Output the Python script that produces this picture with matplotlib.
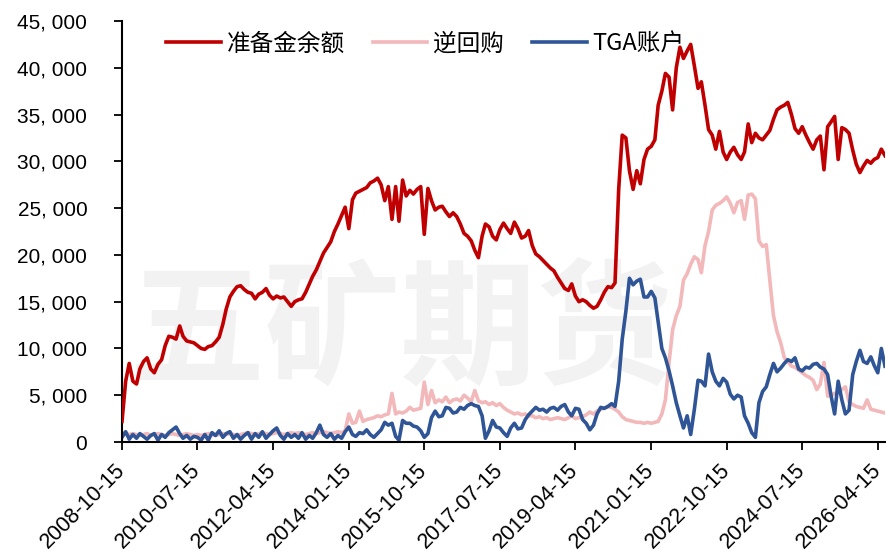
import numpy as np
import pandas as pd
import matplotlib
matplotlib.use("Agg")
import matplotlib.pyplot as plt
import matplotlib.dates as mdates

# monthly points, starting 2008-10-15
dates = pd.date_range("2008-10-15", periods=213, freq=pd.DateOffset(months=1))

reserves = [
    2200, 6500, 8400, 6500, 6200, 7800, 8600, 9000, 7800, 7400, 8300, 8800,
    10300, 11300, 11200, 11000, 12400, 11300, 10800, 10700, 10600, 10300, 10000, 9900,
    10200, 10300, 10700, 11200, 12600, 14200, 15500, 16100, 16600, 16700, 16300, 16000,
    15900, 15300, 15800, 16000, 16400, 15700, 15300, 15600, 15400, 15500, 15000, 14500,
    15000, 15200, 15300, 16000, 16900, 17700, 18400, 19300, 20200, 20800, 21400, 22500,
    23300, 24200, 25100, 22800, 25900, 26600, 26800, 27000, 27200, 27700, 27900, 28200,
    27500, 25800, 27300, 23800, 27300, 23600, 28000, 26300, 26900, 26500, 27000, 27300,
    22200, 27100, 25800, 24800, 25100, 25200, 24600, 24100, 24500, 24100, 23300, 22300,
    22000, 21500, 20500, 19700, 22000, 23300, 23000, 22000, 21600, 22700, 23400, 22800,
    22300, 23500, 22800, 21800, 22000, 22600, 21000, 20100, 19800, 19400, 19000, 18600,
    18300, 17600, 17000, 16400, 16200, 16900, 15600, 15000, 15200, 15000, 14600, 14300,
    14500, 15200, 16000, 16600, 16500, 17000, 27000, 32800, 32500, 29000, 27000, 29000,
    27600, 30200, 31300, 31600, 32300, 36000, 37500, 39400, 39000, 35500, 40000, 42200,
    41000, 41800, 42500, 40200, 37800, 38500, 36000, 33400, 32800, 31300, 33200, 31000,
    30200, 31000, 31500, 30700, 30200, 31000, 34000, 32000, 33000, 32500, 32300, 32800,
    33300, 34500, 35500, 35800, 36000, 36300, 35000, 33500, 33000, 33700, 32800, 32000,
    31300, 32300, 32700, 29100, 33700, 34200, 34800, 30200, 33600, 33400, 33000, 31200,
    29700, 28800, 29500, 30100, 29800, 30200, 30400, 31300, 30600,
]

rrp = [
    1000, 900, 800, 900, 800, 700, 800, 900, 700, 800, 900, 800,
    700, 800, 900, 800, 700, 800, 900, 800, 700, 800, 700, 800,
    900, 800, 700, 800, 900, 800, 900, 800, 700, 800, 900, 1000,
    900, 800, 900, 1000, 900, 800, 900, 1000, 900, 800, 900, 1000,
    900, 1000, 900, 800, 900, 1000, 900, 1000, 1100, 1000, 900, 1000,
    1100, 1000, 1200, 3000, 2000, 2100, 3300, 2200, 2400, 2500, 2600, 2800,
    2700, 2900, 3000, 5200, 3000, 3200, 3100, 3300, 3700, 3400, 3500, 3600,
    6400, 4000, 5500, 4200, 4500, 4300, 4800, 4200, 4500, 4600, 4400, 5000,
    4700, 4300, 5500, 4400, 4200, 4300, 4000, 4200, 3900, 4100, 3700, 3400,
    3200, 3000, 3100, 2900, 3000, 2800, 2800, 2600, 2700, 2500, 2600, 2400,
    2500, 2600, 2500, 2400, 2600, 2800, 2500, 2600, 2700, 2900, 3200, 3000,
    3300, 3500, 3600, 3800, 3700, 3500, 3200, 2700, 2400, 2300, 2200, 2100,
    2100, 2000, 2100, 2000, 2100, 2200, 3000, 4500, 8500, 12000, 13500, 14500,
    17300, 18000, 19000, 19800, 19500, 18100, 21000, 22500, 24800, 25300, 25500, 25800,
    26200, 25500, 24500, 25600, 25800, 23800, 26400, 26500, 26000, 21500, 20900, 21100,
    17300, 13500, 11800, 10600, 9000, 8600, 8100, 8000, 7700, 7400, 7100, 6900,
    6600, 5600, 6200, 8500, 4900, 5000, 5200, 5300, 5600, 5900, 4300, 4000,
    3800, 3700, 3600, 4500, 3500, 3400, 3300, 3200, 3100,
]

tga = [
    500, 1100, 300, 800, 400, 900, 600, 300, 700, 900, 200, 800,
    500, 1000, 1300, 1600, 900, 400, 700, 300, 600, 500, 200, 800,
    200, 1000, 700, 1200, 500, 900, 1100, 400, 800, 300, 700, 1000,
    300, 900, 500, 1100, 400, 800, 1200, 1500, 700, 300, 900, 500,
    800, 400, 1000, 300, 700, 400, 1000, 1800, 800, 500, 900, 300,
    700, 400, 1100, 1600, 800, 600, 1000, 900, 1300, 800, 500, 900,
    1300, 2100, 1800, 2000, 600, 200, 2300, 2000, 2000, 1700, 1600, 1200,
    500, 900, 2600, 3300, 2700, 2800, 3700, 3600, 3100, 3200, 3700, 3500,
    3900, 4100, 3900, 3800, 2800, 400, 1200, 2300, 1600, 1500, 1000, 600,
    1500, 2000, 1400, 1500, 2400, 2900, 3300, 3700, 3400, 3500, 3200, 3600,
    3700, 3400, 3800, 4000, 3200, 2800, 3600, 3500, 2400, 2000, 1300, 1800,
    3000, 3700, 3600, 3800, 4100, 3800, 6500, 11000, 14000, 17500, 16800, 17200,
    17400, 15500, 15500, 16100, 15400, 12800, 10000, 9000, 7600, 6000, 4200, 2800,
    1500, 2800, 800, 3500, 6600, 6500, 6000, 9400, 7500, 6500, 6000, 6800,
    6400, 5100, 4600, 5000, 4800, 2800, 2000, 1000, 500, 4200, 5400, 5900,
    7200, 8400, 7500, 7900, 8400, 8800, 8600, 9000, 7800, 7600, 8000, 7900,
    8300, 8400, 8000, 7800, 7200, 5000, 3000, 6500, 4500, 3000, 3400, 7200,
    8600, 9800, 8600, 8400, 9100, 8200, 7400, 10000, 8100,
]

series_names = ["准备金余额", "逆回购", "TGA账户"]
tick_dates = ["2008-10-15", "2010-07-15", "2012-04-15", "2014-01-15", "2015-10-15",
              "2017-07-15", "2019-04-15", "2021-01-15", "2022-10-15", "2024-07-15",
              "2026-04-15"]
y_ticks = [0, 5000, 10000, 15000, 20000, 25000, 30000, 35000, 40000, 45000]

plt.rcParams['font.family'] = ['Liberation Sans', 'Noto Sans CJK SC', 'DejaVu Sans']

fig = plt.figure(figsize=(8.87, 5.56), dpi=100)
ax = fig.add_axes([122 / 887, 1 - 442 / 556, (885 - 122) / 887, (442 - 21) / 556])

# watermark behind the lines
ax.text(0.365, 0.254, "五矿期货", transform=ax.transAxes, fontsize=98,
        family=['Noto Sans CJK SC'], fontweight='bold', color='#F2F2F2',
        ha='center', va='center', zorder=0.5)

ax.plot(dates, reserves, color='#C00000', lw=2.6, label=series_names[0], zorder=3)
ax.plot(dates, rrp, color='#F2B8BA', lw=2.6, label=series_names[1], zorder=2)
ax.plot(dates, tga, color='#2F5597', lw=2.6, label=series_names[2], zorder=2.5)

ax.set_xlim(pd.Timestamp("2008-10-15"), dates[-1])
ax.set_ylim(0, 45000)

ax.set_xticks(pd.to_datetime(tick_dates))
ax.set_xticklabels(tick_dates, rotation=45, ha='right', va='center',
                   rotation_mode='anchor', fontsize=15.5)
ax.set_yticks(y_ticks)
ax.set_yticklabels([f"{v:,}".replace(",", ", ") for v in y_ticks], fontsize=15)

ax.tick_params(axis='y', direction='out', length=6, width=1.3, pad=19)
ax.tick_params(axis='x', direction='out', length=6, width=1.3, pad=12)

for side in ['top', 'right']:
    ax.spines[side].set_visible(False)
for side in ['left', 'bottom']:
    ax.spines[side].set_linewidth(1.5)

leg = ax.legend(loc='center left', bbox_to_anchor=(0.058, 0.945), ncol=3,
                frameon=False, borderpad=0, borderaxespad=0, handlelength=2.3,
                handletextpad=0.25, columnspacing=1.2,
                prop={'family': ['Noto Sans CJK SC', 'DejaVu Sans'], 'size': 17})

fig.savefig("out.png", dpi=100)
